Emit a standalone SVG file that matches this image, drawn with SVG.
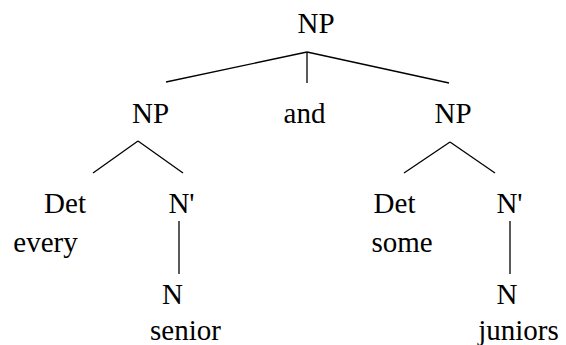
<svg xmlns="http://www.w3.org/2000/svg" width="566" height="345" viewBox="0 0 566 345">
<style>
.edges line { stroke: #000; stroke-width: 1.3; }
.lbl text { font-family: "Liberation Serif", "DejaVu Serif", serif; font-size: 29px; fill: #000; text-anchor: middle; }
</style>
<rect width="566" height="345" fill="#fff"/>
<g class="edges" id="connectors">
<line x1="307" y1="52" x2="166" y2="82"/>
<line x1="307" y1="52" x2="307" y2="83"/>
<line x1="307" y1="52" x2="449" y2="83"/>
<line x1="138" y1="141" x2="93" y2="173"/>
<line x1="138" y1="141" x2="183" y2="173"/>
<line x1="179" y1="221" x2="179" y2="274"/>
<line x1="450" y1="142" x2="404" y2="173"/>
<line x1="450" y1="142" x2="495" y2="173"/>
<line x1="510" y1="221" x2="510" y2="274"/>
</g>
<g class="lbl">
<g id="np-root"><text x="316" y="33">NP</text></g>
<g id="and"><text x="304.5" y="123">and</text></g>
<g id="np-left"><text x="150.5" y="123">NP</text></g>
<g id="np-right"><text x="453" y="123">NP</text></g>
<g id="det-left"><text x="65" y="213">Det</text><text x="45.5" y="252">every</text></g>
<g id="nbar-left"><text x="181.5" y="213">N'</text></g>
<g id="n-left"><text x="172.5" y="304">N</text><text x="185.5" y="340">senior</text></g>
<g id="det-right"><text x="394.5" y="213">Det</text><text x="402" y="252">some</text></g>
<g id="nbar-right"><text x="509.5" y="213">N'</text></g>
<g id="n-right"><text x="507" y="304">N</text><text x="518.5" y="340">juniors</text></g>
</g>
</svg>
